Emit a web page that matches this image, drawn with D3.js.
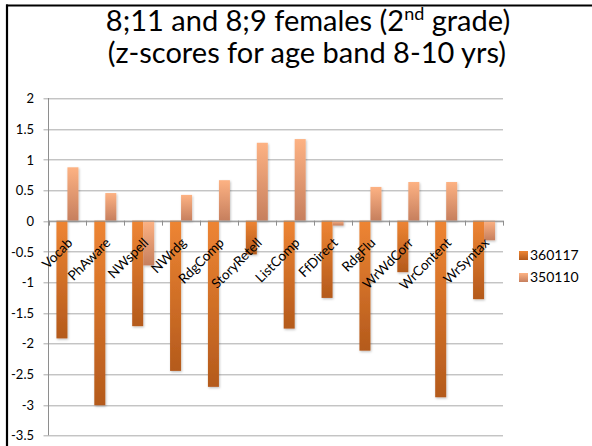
<!DOCTYPE html>
<html>
<head>
<meta charset="utf-8">
<script src="https://cdn.jsdelivr.net/npm/d3@7"></script>
<style>
  html, body { margin: 0; padding: 0; background: #fff; }
  svg { display: block; }
  text { font-family: Lato, "Open Sans", "Liberation Sans", sans-serif; fill: #000; }
</style>
</head>
<body>
<svg id="chart" width="592" height="446"></svg>
<script>
// Subtests on the horizontal axis
const categories = ["Vocab", "PhAware", "NWspell", "NWrdg", "RdgComp", "StoryRetell",
                    "ListComp", "FfDirect", "RdgFlu", "WrWdCorr", "WrContent", "WrSyntax"];
// Series names, as shown in the legend
const seriesNames = ["360117", "350110"];
// z-scores per subtest, one array per child
const values360117 = [-1.92, -3.01, -1.72, -2.45, -2.71, -0.55, -1.76, -1.26, -2.12, -0.84, -2.88, -1.28];
const values350110 = [0.87, 0.45, -0.73, 0.42, 0.66, 1.27, 1.33, -0.08, 0.55, 0.63, 0.63, -0.32];
// Value axis ticks
const yTicks = [2, 1.5, 1, 0.5, 0, -0.5, -1, -1.5, -2, -2.5, -3, -3.5];

const svg = d3.select("#chart");
const W = 592, H = 446;
const plot = { left: 48.5, right: 503, top: 98, bottom: 435.3 };

const defs = svg.append("defs");
// Vertical gradients: light on top, darker at the bottom of each bar
const grads = {
  "360117": ["#EE8533", "#B45A1C"],
  "350110": ["#FDB283", "#C67F5E"]
};
seriesNames.forEach((s, i) => {
  const g = defs.append("linearGradient")
    .attr("id", "grad" + i).attr("x1", 0).attr("y1", 0).attr("x2", 0).attr("y2", 1);
  g.append("stop").attr("offset", "0%").attr("stop-color", grads[s][0]);
  g.append("stop").attr("offset", "100%").attr("stop-color", grads[s][1]);
});
const shadow = defs.append("filter").attr("id", "shadow")
  .attr("x", "-30%").attr("y", "-10%").attr("width", "160%").attr("height", "120%");
shadow.append("feDropShadow").attr("dx", 0.8).attr("dy", 1.2).attr("stdDeviation", 1)
  .attr("flood-color", "#000").attr("flood-opacity", 0.25);

// Frame lines (left and top edges)
svg.append("line").attr("x1", 7).attr("x2", 7).attr("y1", 4.5).attr("y2", H)
  .attr("stroke", "#000").attr("stroke-width", 2.2);
svg.append("line").attr("x1", 6).attr("x2", W).attr("y1", 5.5).attr("y2", 5.5)
  .attr("stroke", "#000").attr("stroke-width", 2.2);

// Title
const title = svg.append("g").attr("text-anchor", "middle");
const t1 = title.append("text").attr("x", 308).attr("y", 31).style("font-size", "29px");
t1.append("tspan").text("8;11 and 8;9 females (2");
t1.append("tspan").attr("dy", -11).style("font-size", "18px").text("nd");
t1.append("tspan").attr("dy", 11).text(" grade)");
title.append("text").attr("x", 307).attr("y", 63).style("font-size", "29px")
  .text("(z-scores for age band 8-10 yrs)");

// Scales
const y = d3.scaleLinear().domain([-3.5, 2]).range([plot.bottom, plot.top]);
const x = d3.scaleBand().domain(categories).range([plot.left, plot.right]).paddingInner(0).paddingOuter(0);
const groupW = 22;
const x1 = d3.scaleBand().domain(seriesNames)
  .range([(x.bandwidth() - groupW) / 2, (x.bandwidth() + groupW) / 2]);

// Gridlines with a soft lower edge
const grid = svg.append("g");
yTicks.forEach(t => {
  const yy = Math.round(y(t)) + 0.5;
  grid.append("line").attr("x1", plot.left - 5).attr("x2", plot.right)
    .attr("y1", yy + 1).attr("y2", yy + 1).attr("stroke", "#E4E4E4").attr("stroke-width", 1);
  grid.append("line").attr("x1", plot.left - 5).attr("x2", plot.right)
    .attr("y1", yy).attr("y2", yy).attr("stroke", "#C4C4C4").attr("stroke-width", 1);
});

// Y axis (labels only, line drawn separately)
const yAxis = d3.axisLeft(y).tickValues(yTicks).tickSize(0).tickPadding(0)
  .tickFormat(d => String(d));
const yg = svg.append("g").attr("transform", `translate(34,0)`).call(yAxis);
yg.select(".domain").remove();
yg.selectAll("text").style("font-size", "13px").attr("dy", "0.36em");

svg.append("line").attr("x1", plot.left).attr("x2", plot.left)
  .attr("y1", plot.top).attr("y2", plot.bottom).attr("stroke", "#8E8E8E");

// Bars
const series = [values360117, values350110];
const bars = svg.append("g").attr("filter", "url(#shadow)");
series.forEach((vals, si) => {
  bars.selectAll(null).data(categories.map((c, i) => ({ c, v: vals[i] })))
    .enter().append("rect")
    .attr("x", d => x(d.c) + x1(seriesNames[si]))
    .attr("width", x1.bandwidth())
    .attr("y", d => y(Math.max(0, d.v)))
    .attr("height", d => Math.abs(y(d.v) - y(0)))
    .attr("fill", `url(#grad${si})`);
});

// Category axis along zero
const y0 = y(0);
const xAxis = d3.axisBottom(x).tickSize(0).tickFormat("");
const xg = svg.append("g").attr("transform", `translate(0,${y0})`).call(xAxis);
xg.select(".domain").attr("stroke", "#8E8E8E").attr("d", `M${plot.left},0.5H${plot.right}`);
// Tick marks at category boundaries
const bounds = categories.map(c => x(c)).concat([plot.right]);
xg.selectAll(".bound").data(bounds).enter().append("line")
  .attr("x1", d => Math.round(d) + 0.5).attr("x2", d => Math.round(d) + 0.5)
  .attr("y1", 0).attr("y2", 5).attr("stroke", "#8E8E8E");

// Rotated category labels
svg.append("g").selectAll("text").data(categories).enter().append("text")
  .attr("transform", d => `translate(${x(d) + x.bandwidth() / 2 + 6},${y0 + 23}) rotate(-45)`)
  .attr("text-anchor", "end")
  .style("font-size", "13.5px")
  .text(d => d);

// Legend
const legend = svg.append("g");
seriesNames.forEach((s, i) => {
  const ly = 251 + i * 22;
  legend.append("rect").attr("x", 519).attr("y", ly).attr("width", 9).attr("height", 9)
    .attr("fill", `url(#grad${i})`);
  legend.append("text").attr("x", 530).attr("y", ly + 8.5).style("font-size", "14px").text(s);
});
</script>
</body>
</html>
